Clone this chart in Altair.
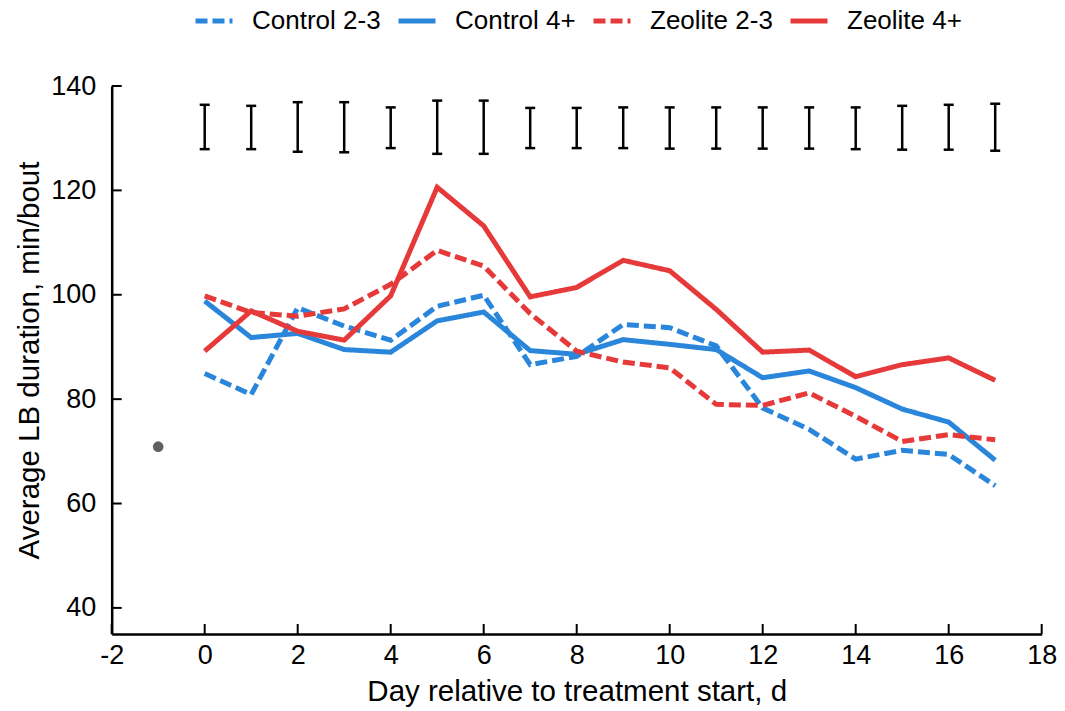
import altair as alt
import pandas as pd

FONT = "Liberation Sans"

# Daily means of lying-bout duration (min/bout) by group
days = list(range(18))
control_2_3 = [84.9, 80.9, 97.5, 94.0, 91.3, 97.8, 99.9, 86.6, 88.2, 94.3,
               93.7, 90.2, 78.3, 74.2, 68.5, 70.2, 69.4, 63.4]
control_4p = [98.8, 91.8, 92.6, 89.5, 89.0, 95.0, 96.7, 89.3, 88.6, 91.4,
              90.5, 89.5, 84.1, 85.4, 82.2, 78.1, 75.6, 68.3]
zeolite_2_3 = [99.8, 96.6, 95.9, 97.3, 102.0, 108.5, 105.5, 96.4, 89.2, 87.1,
               86.0, 79.0, 78.8, 81.2, 76.7, 71.9, 73.2, 72.2]
zeolite_4p = [89.2, 96.9, 93.0, 91.3, 99.8, 120.6, 113.2, 99.6, 101.4, 106.6,
              104.6, 97.2, 89.0, 89.4, 84.3, 86.6, 87.9, 83.6]

# Pooled SE bars shown above the curves
bar_top = [136.4, 136.2, 136.9, 136.9, 135.9, 137.2, 137.2, 135.8, 135.8, 135.9,
           135.9, 135.9, 135.9, 135.9, 135.9, 136.2, 136.4, 136.6]
bar_bottom = [127.9, 127.9, 127.4, 127.3, 128.1, 127.0, 127.0, 128.1, 128.1, 128.1,
              128.0, 128.0, 128.0, 128.0, 127.9, 127.8, 127.8, 127.6]

# Pre-treatment baseline
pre_day = [-1]
pre_value = [70.9]

x_ticks = list(range(-2, 19, 2))
y_ticks = list(range(40, 141, 20))

series_names = ["Control 2-3", "Control 4+", "Zeolite 2-3", "Zeolite 4+"]
series_colors = ["#2a86da", "#2a86da", "#e63a3a", "#e63a3a"]
series_dashes = [[12, 5], [1, 0], [12, 5], [1, 0]]

W, H = 930, 548

lines_df = pd.concat([
    pd.DataFrame({"day": days, "value": vals, "group": name})
    for name, vals in zip(series_names, [control_2_3, control_4p, zeolite_2_3, zeolite_4p])
])
bars_df = pd.DataFrame({"day": days, "top": bar_top, "bottom": bar_bottom})
pre_df = pd.DataFrame({"day": pre_day, "value": pre_value})
xt_df = pd.DataFrame({"v": x_ticks})
yt_df = pd.DataFrame({"v": y_ticks})

x_scale = alt.Scale(domain=[-2, 18], nice=False, zero=False)
y_scale = alt.Scale(domain=[35, 140], nice=False, zero=False)

# plain hyphen for negative tick labels
plain_label = "'' + datum.value"

x_axis = alt.Axis(values=x_ticks, ticks=False, tickSize=0, grid=False,
                  domainColor="black", domainWidth=2.5,
                  labelFont=FONT, labelFontSize=27, labelColor="black",
                  labelPadding=8, labelFlush=False, labelExpr=plain_label,
                  title="Day relative to treatment start, d",
                  titleFont=FONT, titleFontSize=29.5, titleFontWeight="normal",
                  titleColor="black", titlePadding=9)
y_axis = alt.Axis(values=y_ticks, ticks=False, tickSize=0, grid=False,
                  domainColor="black", domainWidth=2.5,
                  labelFont=FONT, labelFontSize=27, labelColor="black",
                  labelPadding=16, labelFlush=False, labelExpr=plain_label,
                  title="Average LB duration, min/bout",
                  titleFont=FONT, titleFontSize=29.5, titleFontWeight="normal",
                  titleColor="black", titlePadding=6)

legend = alt.Legend(title=None, orient="none", legendX=81.3, legendY=-86,
                    direction="horizontal", symbolType="stroke",
                    symbolSize=1369, symbolStrokeWidth=5,
                    labelFont=FONT, labelFontSize=26, labelColor="black",
                    labelOffset=17, columnPadding=7, padding=0)

group_scale_color = alt.Scale(domain=series_names, range=series_colors)
group_scale_dash = alt.Scale(domain=series_names, range=series_dashes)


def xq(field):
    return alt.X(field, type="quantitative", scale=x_scale, axis=x_axis)


def yq(field):
    return alt.Y(field, type="quantitative", scale=y_scale, axis=y_axis)


lines = alt.Chart(lines_df).mark_line(strokeWidth=5).encode(
    x=xq("day"),
    y=yq("value"),
    color=alt.Color("group:N", scale=group_scale_color, legend=legend,
                    sort=series_names),
    strokeDash=alt.StrokeDash("group:N", scale=group_scale_dash, legend=legend,
                              sort=series_names),
)

bar_stems = alt.Chart(bars_df).mark_rule(color="black", strokeWidth=2.5).encode(
    x=xq("day"),
    y=yq("bottom"),
    y2="top:Q",
)
bar_caps_top = alt.Chart(bars_df).mark_tick(
    color="black", thickness=2.5, size=10, orient="horizontal", opacity=1
).encode(x=xq("day"), y=yq("top"))
bar_caps_bottom = alt.Chart(bars_df).mark_tick(
    color="black", thickness=2.5, size=10, orient="horizontal", opacity=1
).encode(x=xq("day"), y=yq("bottom"))

pre_point = alt.Chart(pre_df).mark_circle(size=113, color="#606060", opacity=1).encode(
    x=xq("day"),
    y=yq("value"),
)

# Inward-pointing tick marks on both axes
x_tick_marks = alt.Chart(xt_df).mark_rule(color="black", strokeWidth=2).encode(
    x=xq("v"),
    y=alt.value(H),
    y2=alt.value(H - 10),
)
y_tick_marks = alt.Chart(yt_df).mark_rule(color="black", strokeWidth=2).encode(
    y=yq("v"),
    x=alt.value(0),
    x2=alt.value(10),
)

chart = alt.layer(
    lines, bar_stems, bar_caps_top, bar_caps_bottom, pre_point,
    x_tick_marks, y_tick_marks,
).properties(
    width=W, height=H,
    autosize=alt.AutoSizeParams(type="none"),
    padding={"left": 111.7, "top": 86, "right": 23.3, "bottom": 77},
    background="white",
).configure_view(stroke="transparent")

chart.save("out.html", embed_options={"renderer": "svg", "actions": False})
